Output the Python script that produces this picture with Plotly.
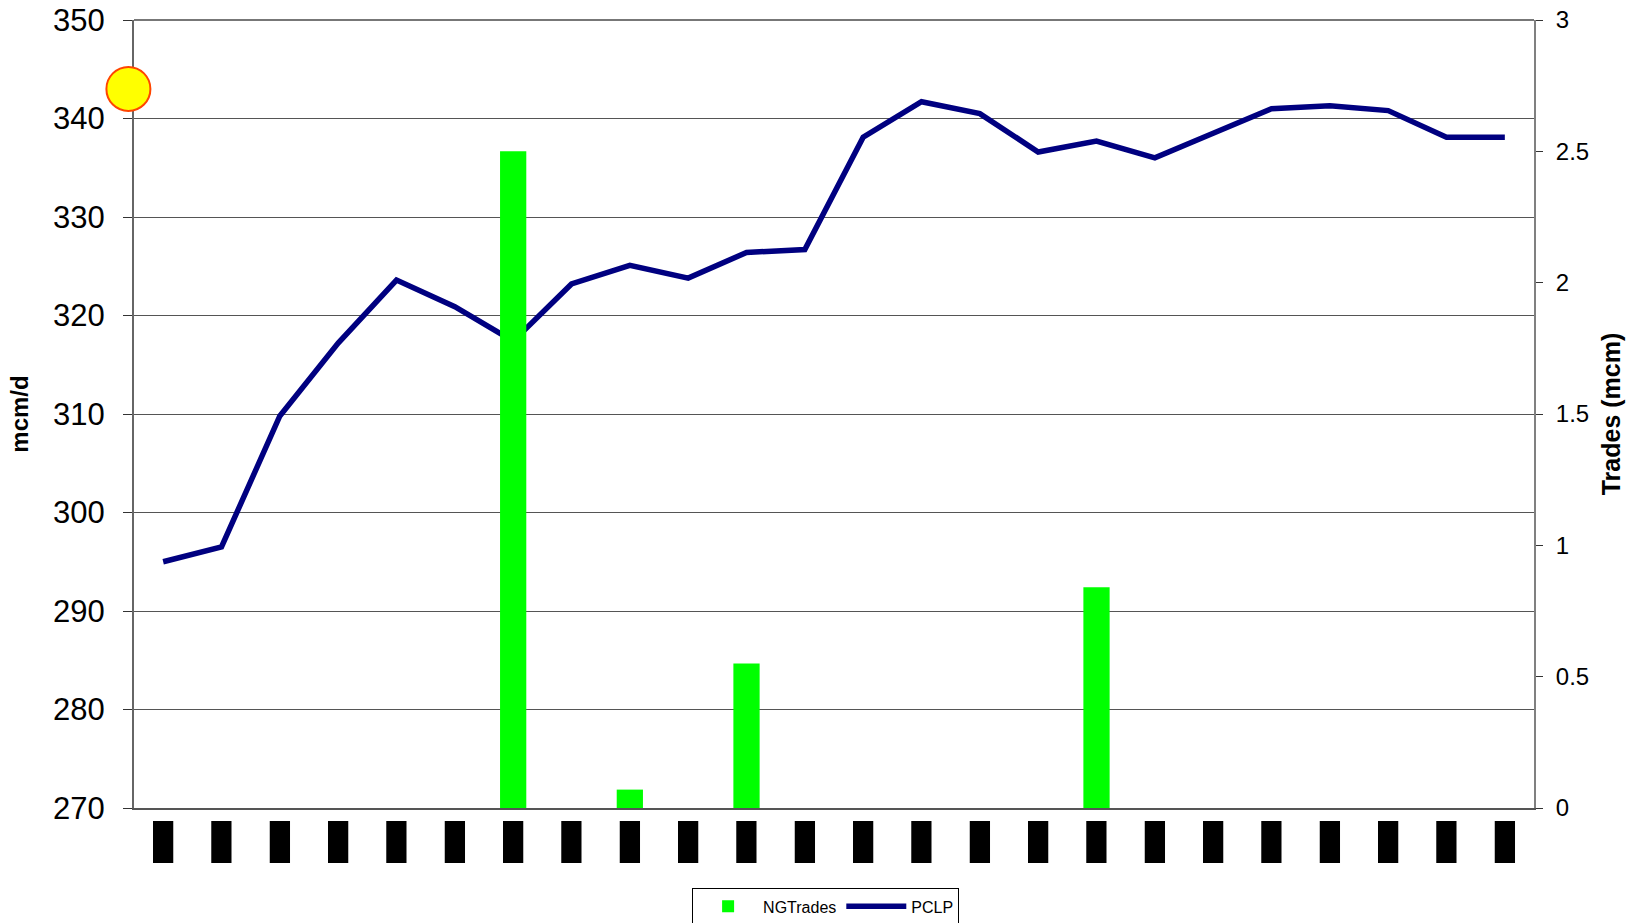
import plotly.graph_objects as go

# categories (dates are redacted in the source, shown as black blocks)
days = list(range(1, 25))
day_labels = ['▮'] * 24

pclp = [295.0, 296.5, 309.8, 317.2, 323.6, 320.9, 317.4, 323.2, 325.1, 323.8, 326.4, 326.7,
        338.1, 341.7, 340.5, 336.6, 337.7, 336.0, 338.5, 341.0, 341.3, 340.8, 338.1, 338.1]
ng_trades = [0, 0, 0, 0, 0, 0, 2.5, 0, 0.07, 0, 0.55, 0, 0, 0, 0, 0, 0.84, 0, 0, 0, 0, 0, 0, 0]

marker_value = 343

font = 'Liberation Sans, Arial, sans-serif'

fig = go.Figure()
fig.add_trace(go.Bar(x=days, y=ng_trades, name='NGTrades', marker_color='#00FF00',
                     marker_line_width=0, yaxis='y2'))
fig.add_trace(go.Scatter(x=days, y=pclp, name='PCLP', mode='lines',
                         line=dict(color='#000080', width=5.5)))

fig.update_layout(
    width=1641, height=923,
    margin=dict(l=134, r=107, t=20, b=115, autoexpand=False),
    plot_bgcolor='white', paper_bgcolor='white',
    font=dict(family=font, color='black'),
    bargap=0.55,
    showlegend=True,
    legend=dict(orientation='h', x=0.494, xanchor='center', y=-0.102, yanchor='top',
                bordercolor='black', borderwidth=1, font=dict(size=16), traceorder='normal',
                itemwidth=60),
    xaxis=dict(range=[0.5, 24.5], tickvals=days, ticktext=day_labels, tickangle=0,
               tickfont=dict(size=55, family='DejaVu Sans', color='black'),
               showgrid=False, showline=True, linecolor='#555', linewidth=2,
               ticks='', zeroline=False, automargin=False, ticklabelstandoff=-20),
    yaxis=dict(range=[270, 350], dtick=10, tickfont=dict(size=31), showgrid=True,
               gridcolor='#555', gridwidth=1, showline=True, linecolor='#666', linewidth=2,
               ticks='outside', ticklen=9, tickcolor='#333', zeroline=False,
               automargin=False, ticklabelstandoff=12, ticklabeloverflow='allow',
               title=dict(text='<b>mcm/d</b>', font=dict(size=24), standoff=18)),
    yaxis2=dict(range=[0, 3], dtick=0.5, overlaying='y', side='right', showgrid=False,
                tickfont=dict(size=24), showline=True, linecolor='#808080', linewidth=2,
                ticks='outside', ticklen=7, tickcolor='#333', zeroline=False,
                automargin=False, ticklabelstandoff=8, ticklabeloverflow='allow',
                title=dict(text='<b>Trades (mcm)</b>', font=dict(size=25), standoff=14)),
)

# top border of the plot
fig.add_shape(type='line', xref='paper', yref='paper', x0=0, x1=1, y0=1, y1=1,
              line=dict(color='#777', width=2))

# yellow marker on the left axis
fig.add_shape(type='circle', xref='paper', yref='y', xsizemode='pixel', ysizemode='pixel',
              xanchor=-0.004, yanchor=marker_value, x0=-22, x1=22, y0=-22, y1=22,
              fillcolor='#FFFF00', line=dict(color='#FF4500', width=2))

# drop the default 8px body margin so the figure fills the window exactly
fig.write_html('out.html', config={'displayModeBar': False},
               post_script="document.body.style.margin='0';")
